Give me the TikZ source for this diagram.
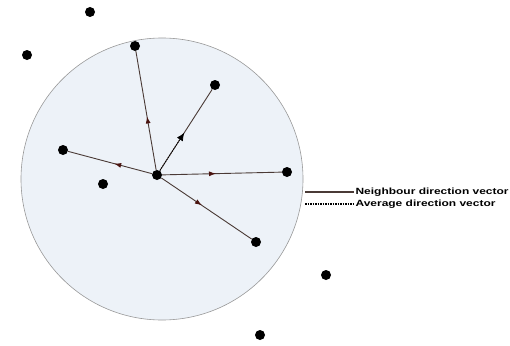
\documentclass[tikz,border=0pt]{standalone}
\usepackage{fontspec}
\setmainfont{Liberation Sans}
\usetikzlibrary{arrows.meta,decorations.markings,calc}
\definecolor{fillc}{HTML}{EDF2F8}
\definecolor{vecc}{HTML}{4A3A36}
\definecolor{tipc}{HTML}{4A1410}
\tikzset{
  dot/.style={circle,fill=black,inner sep=0pt,minimum size=10pt},
  nvec/.style={vecc,line width=0.9pt,postaction={decorate},
    decoration={markings,mark=at position 0.45 with {\arrow[tipc]{Latex[length=7pt,width=5pt]}}}},
  avec/.style={black,line width=0.8pt,dash pattern=on 1.5pt off 1pt,-{Latex[length=8pt,width=7pt]}},
  legtext/.style={font=\bfseries\fontsize{9}{10}\selectfont,anchor=west,inner sep=1pt,xscale=1.33}
}
\begin{document}
\begin{tikzpicture}[x=1pt,y=-1pt]
\useasboundingbox (0,0) rectangle (510,345);
\fill[white] (0,0) rectangle (510,345);
\draw[gray!80,fill=fillc,line width=0.6pt] (162,179) circle[radius=141];
% points
\node[dot] (c) at (157,175) {};
\node[dot] (p1) at (135,46) {};
\node[dot] (p2) at (215,85) {};
\node[dot] (p3) at (63,150) {};
\node[dot] (p4) at (103,184) {};
\node[dot] (p5) at (287,172) {};
\node[dot] (p6) at (256,242) {};
\node[dot] (o1) at (90,12) {};
\node[dot] (o2) at (27,55) {};
\node[dot] (o3) at (326,275) {};
\node[dot] (o4) at (260,335) {};
% neighbour vectors
\draw[nvec] (c) -- (p1);
\draw[nvec] (c) -- (p3);
\draw[nvec] (c) -- (p5);
\draw[nvec] (c) -- (p6);
\draw[vecc,line width=0.9pt] (c) -- (p2);
% average vector
\coordinate (avg) at ($(c)!0.47!(p2)$);
\draw[avec] (c) -- (avg);
% legend
\coordinate (l1a) at (305,192);
\coordinate (l1b) at (354,192);
\coordinate (l2a) at (305,204);
\coordinate (l2b) at (354,204);
\draw[vecc,line width=1.3pt] (l1a) -- (l1b);
\draw[black,line width=1.2pt,dash pattern=on 1.5pt off 1pt] (l2a) -- (l2b);
\node[legtext] (t1) at (l1b) {Neighbour direction vector};
\node[legtext] (t2) at (l2b) {Average direction vector};
\end{tikzpicture}
\end{document}
